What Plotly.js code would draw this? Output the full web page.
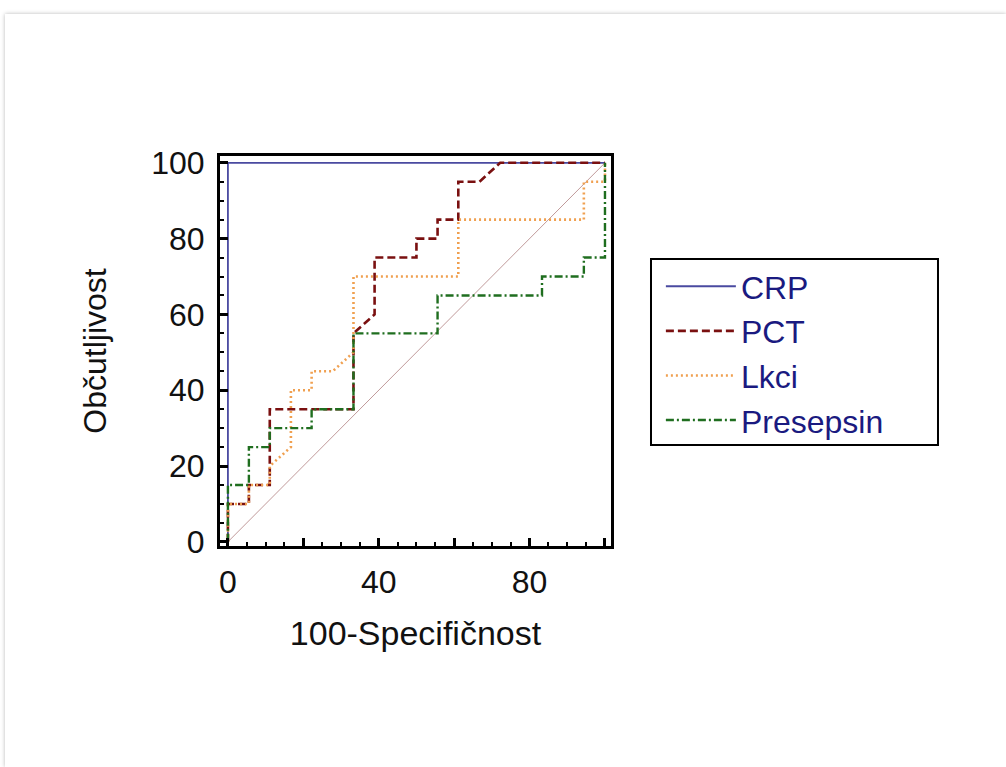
<!DOCTYPE html>
<html>
<head>
<meta charset="utf-8">
<script src="https://cdn.plot.ly/plotly-3.0.1.min.js"></script>
<style>
  html, body { margin: 0; padding: 0; background: #ffffff; width: 1006px; height: 767px; overflow: hidden; }
  #card { position: absolute; left: 5px; top: 14px; width: 1001px; height: 753px; background: #ffffff;
          box-shadow: 0 0 4px rgba(0,0,0,0.28); }
  #chart { width: 1001px; height: 753px; }
</style>
</head>
<body>
<div id="card"><div id="chart"></div></div>
<script>
// ROC curves: x = 100-Specifičnost, y = Občutljivost
const crpX = [0, 0, 100];
const crpY = [0, 100, 100];

const pctX = [0, 0, 5.56, 5.56, 11.1, 11.1, 33.3, 33.3, 38.9, 38.9, 50, 50, 55.6, 55.6, 61.1, 61.1, 66.7, 72.2, 100];
const pctY = [0, 10, 10, 15, 15, 35, 35, 55, 60, 75, 75, 80, 80, 85, 85, 95, 95, 100, 100];

const lkciX = [0, 0, 5.56, 5.56, 11.1, 11.1, 16.7, 16.7, 22.2, 22.2, 27.8, 33.3, 33.3, 61.1, 61.1, 94.4, 94.4, 100, 100];
const lkciY = [0, 10, 10, 15, 15, 20, 25, 40, 40, 45, 45, 50, 70, 70, 85, 85, 95, 95, 100];

const presX = [0, 0, 5.56, 5.56, 11.1, 11.1, 22.2, 22.2, 33.3, 33.3, 55.6, 55.6, 83.3, 83.3, 94.4, 94.4, 100, 100];
const presY = [0, 15, 15, 25, 25, 30, 30, 35, 35, 55, 55, 65, 65, 70, 70, 75, 75, 100];

const diagX = [0, 100];
const diagY = [0, 100];

const seriesNames = ['CRP', 'PCT', 'Lkci', 'Presepsin'];

const xTickVals = [0, 20, 40, 60, 80, 100];
const xTickText = ['0', '', '40', '', '80', ''];
const yTickVals = [0, 20, 40, 60, 80, 100];
const yTickText = ['0', '20', '40', '60', '80', '100'];

const FONT = '"Liberation Sans", Arial, sans-serif';

const traces = [
  { x: diagX, y: diagY, mode: 'lines', showlegend: false, hoverinfo: 'skip',
    line: { color: '#b08080', width: 0.8 } },
  { x: crpX, y: crpY, mode: 'lines', name: seriesNames[0],
    line: { color: '#4a4aa0', width: 1.8 } },
  { x: pctX, y: pctY, mode: 'lines', name: seriesNames[1],
    line: { color: '#7a1010', width: 2.6, dash: '8px,4px' } },
  { x: lkciX, y: lkciY, mode: 'lines', name: seriesNames[2],
    line: { color: '#f0a050', width: 2.6, dash: '2px,3px' } },
  { x: presX, y: presY, mode: 'lines', name: seriesNames[3],
    line: { color: '#1f6e1f', width: 2.4, dash: '8px,3px,2px,3px' } }
];

const axisCommon = {
  showgrid: false, zeroline: false,
  showline: true, linecolor: '#000000', linewidth: 3, mirror: true,
  ticks: 'inside', ticklen: 8, tickwidth: 3, tickcolor: '#000000',
  tickfont: { family: FONT, size: 32, color: '#111111' },
  minor: { dtick: 5, tick0: 0, ticks: 'inside', ticklen: 4, tickwidth: 2, tickcolor: '#000000', showgrid: false }
};

const layout = {
  width: 1001, height: 753,
  paper_bgcolor: '#ffffff', plot_bgcolor: '#ffffff',
  margin: { l: 215, r: 395, t: 142, b: 221 },
  showlegend: true,
  xaxis: Object.assign({}, axisCommon, {
    range: [-2.1, 101.6], tickmode: 'array', tickvals: xTickVals, ticktext: xTickText,
    ticklabelstandoff: 6,
    title: { text: '100-Specifičnost', font: { family: FONT, size: 34, color: '#111111' }, standoff: 22 }
  }),
  yaxis: Object.assign({}, axisCommon, {
    range: [-1.1, 101.8], tickmode: 'array', tickvals: yTickVals, ticktext: yTickText,
    ticklabelstandoff: 6,
    title: { text: 'Občutljivost', font: { family: FONT, size: 32, color: '#111111' }, standoff: 36 }
  }),
  legend: {
    x: 1.102, y: 0.736, xanchor: 'left', yanchor: 'top',
    borderwidth: 0, bgcolor: 'rgba(0,0,0,0)',
    font: { family: FONT, size: 32, color: '#1a1a80' },
    itemwidth: 70, indentation: 10, tracegroupgap: 0
  },
  shapes: [
    { type: 'rect', xref: 'paper', yref: 'paper', x0: 1.1023, x1: 1.8363, y0: 0.259, y1: 0.7359,
      line: { color: '#000000', width: 2 }, fillcolor: 'rgba(0,0,0,0)', layer: 'above' }
  ]
};

Plotly.newPlot('chart', traces, layout, { displayModeBar: false, staticPlot: true });
</script>
</body>
</html>
